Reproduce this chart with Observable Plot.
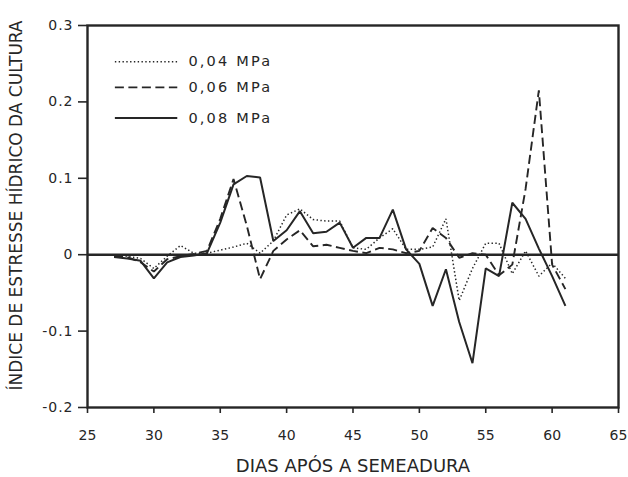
<!DOCTYPE html>
<html>
<head>
<meta charset="utf-8">
<script src="https://cdn.jsdelivr.net/npm/d3@7"></script>
<script src="https://cdn.jsdelivr.net/npm/@observablehq/plot@0.6"></script>
<style>
  html, body { margin: 0; padding: 0; background: #fff; }
  #chart svg { display: block; }
</style>
</head>
<body>
<div id="chart"></div>
<script>
// ---- data ----
const days = [27,28,29,30,31,32,33,34,35,36,37,38,39,40,41,42,43,44,45,46,47,48,49,50,51,52,53,54,55,56,57,58,59,60,61];
const mpa004 = [-0.001,-0.002,-0.005,-0.018,-0.002,0.012,0.002,0.002,0.006,0.010,0.015,0.002,0.018,0.052,0.060,0.046,0.044,0.044,0.009,0.007,0.022,0.034,0.007,0.007,0.010,0.047,-0.060,-0.018,0.015,0.015,-0.025,0.005,-0.028,-0.011,-0.031];
const mpa006 = [-0.002,-0.003,-0.010,-0.022,-0.006,-0.002,0.001,0.005,0.047,0.099,0.038,-0.032,0.005,0.020,0.032,0.011,0.013,0.009,0.005,0.002,0.009,0.007,0.002,0.005,0.035,0.022,-0.004,0.002,0.000,-0.027,-0.013,0.086,0.215,-0.013,-0.045];
const mpa008 = [-0.003,-0.005,-0.008,-0.031,-0.010,-0.003,-0.001,0.002,0.042,0.092,0.103,0.101,0.018,0.032,0.057,0.028,0.030,0.042,0.009,0.022,0.022,0.059,0.007,-0.012,-0.067,-0.019,-0.088,-0.142,-0.018,-0.028,0.068,0.047,0.008,-0.028,-0.067];
const seriesNames = ["0,04 MPa", "0,06 MPa", "0,08 MPa"];
const xTicks = [25,30,35,40,45,50,55,60,65];
const yTicks = [-0.2,-0.1,0,0.1,0.2,0.3];
const xTitle = "DIAS APÓS A SEMEADURA";
const yTitle = "ÍNDICE DE ESTRESSE HÍDRICO DA CULTURA";

// ---- build ----
const seriesValues = [mpa004, mpa006, mpa008];
const rows = seriesValues.flatMap((vals, k) => days.map((d, i) => ({day: d, value: vals[i], series: seriesNames[k]})));

const ink = "#262626";
const styles = [
  {dash: "1.4,2.4", width: 1.5},
  {dash: "9,4.5", width: 1.9},
  {dash: null, width: 2.0}
];

// legend placement (data space, inside the frame, top-left)
const legY = [0.2525, 0.219, 0.179];
const legX1 = 27.1, legX2 = 31.8, legTextX = 32.6;

const marks = [
  Plot.frame({stroke: ink, strokeWidth: 2.4}),
  Plot.ruleY([0], {stroke: ink, strokeWidth: 2.4}),
  Plot.axisX({ticks: xTicks, tickSize: 6, tickPadding: 17, fontSize: 14, label: null, stroke: ink, strokeWidth: 1.6, fill: ink}),
  Plot.axisY({ticks: yTicks, tickSize: 9, tickPadding: 5, fontSize: 14, label: null, stroke: ink, strokeWidth: 1.6, fill: ink,
              tickFormat: d => d === 0 ? "0" : d.toFixed(1)}),
  Plot.text([xTitle], {frameAnchor: "bottom", dy: 59, fontSize: 18, fill: ink, lineAnchor: "middle"}),
  Plot.text([yTitle], {frameAnchor: "left", textAnchor: "middle", dx: -71, dy: -11, rotate: -90, fontSize: 18, fill: ink, lineAnchor: "middle"})
];

seriesNames.forEach((name, k) => {
  const st = styles[k];
  marks.push(Plot.line(rows.filter(r => r.series === name), {
    x: "day", y: "value", stroke: ink, strokeWidth: st.width,
    strokeDasharray: st.dash || undefined, strokeLinejoin: "miter", strokeLinecap: "butt"
  }));
  marks.push(Plot.ruleY([legY[k]], {x1: legX1, x2: legX2, stroke: ink, strokeWidth: st.width, strokeDasharray: st.dash || undefined}));
  marks.push(Plot.text([name], {x: legTextX, y: legY[k], textAnchor: "start", fontSize: 14.5, fill: ink, lineAnchor: "middle"}));
});

const chart = Plot.plot({
  width: 628,
  height: 477,
  marginLeft: 87,
  marginRight: 10,
  marginTop: 25,
  marginBottom: 70,
  style: {fontFamily: "DejaVu Sans, sans-serif", background: "#fff", color: ink},
  x: {domain: [25, 65]},
  y: {domain: [-0.2, 0.3]},
  marks
});

document.getElementById("chart").appendChild(chart);

// typographic tweaks
d3.select(chart).selectAll("text").each(function() {
  const t = this.textContent;
  if (t === yTitle) {
    d3.select(this).attr("font-family", "DejaVu Sans Condensed, DejaVu Sans, sans-serif")
      .attr("textLength", 370).attr("lengthAdjust", "spacingAndGlyphs");
  } else if (seriesNames.includes(t)) {
    d3.select(this).attr("letter-spacing", "2.2");
  }
});
d3.select(chart).selectAll("[aria-label='y-axis tick label'] text").attr("letter-spacing", "1");
</script>
</body>
</html>
